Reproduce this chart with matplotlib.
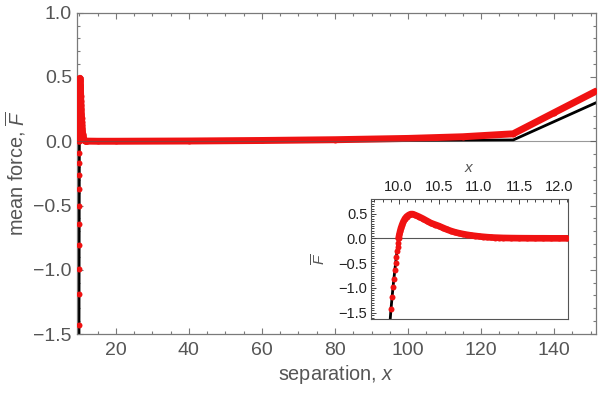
import matplotlib
matplotlib.use('Agg')
import matplotlib.pyplot as plt
from matplotlib.ticker import MultipleLocator, FixedLocator, FixedFormatter
import numpy as np

# ---- data ----
# red: simulated mean force (markers)
red_x = [9.905, 9.918, 9.930, 9.942, 9.953, 9.963, 9.972, 9.980, 9.987, 9.993,
         10.000, 10.010, 10.020, 10.030, 10.045, 10.060, 10.080, 10.100, 10.125,
         10.150, 10.175, 10.200, 10.250, 10.300, 10.350, 10.400, 10.450, 10.500,
         10.550, 10.600, 10.650, 10.700, 10.750, 10.800, 10.850, 10.900, 10.950,
         11.000, 11.050, 11.100, 11.150, 11.200, 11.250, 11.300, 11.400, 11.500,
         11.600, 11.700, 11.800, 11.900, 12.000, 12.100,
         15.0, 20.0, 40.0, 60.0, 80.0, 100.0, 115.0, 128.8, 140.0, 151.5]
red_y = [-1.43, -1.19, -0.99, -0.81, -0.64, -0.50, -0.37, -0.26, -0.17, -0.09,
         0.00, 0.08, 0.15, 0.21, 0.28, 0.34, 0.40, 0.44, 0.47,
         0.49, 0.49, 0.475, 0.44, 0.40, 0.355, 0.31, 0.28, 0.25,
         0.215, 0.18, 0.15, 0.125, 0.105, 0.088, 0.073, 0.060, 0.050,
         0.040, 0.032, 0.025, 0.019, 0.015, 0.012, 0.009, 0.006, 0.004,
         0.003, 0.002, 0.002, 0.001, 0.001, 0.001,
         0.000, 0.000, 0.002, 0.006, 0.012, 0.022, 0.035, 0.058, 0.222, 0.39]

# black: theoretical curve
black_x = [9.890, 9.905, 9.930, 9.953, 9.972, 9.987, 10.000, 10.020, 10.045,
           10.080, 10.125, 10.165, 10.200, 10.300, 10.400, 10.500, 10.600,
           10.700, 10.800, 10.900, 11.000, 11.200, 11.500, 12.000,
           20.0, 60.0, 100.0, 128.8, 151.5]
black_y = [-1.75, -1.43, -0.99, -0.64, -0.37, -0.17, 0.00, 0.15, 0.28,
           0.40, 0.47, 0.49, 0.475, 0.40, 0.31, 0.25, 0.18,
           0.125, 0.088, 0.060, 0.040, 0.015, 0.004, 0.001,
           0.000, 0.002, 0.005, 0.010, 0.30]

main_xticks = [20, 40, 60, 80, 100, 120, 140]
main_yticks = [-1.5, -1.0, -0.5, 0.0, 0.5, 1.0]
inset_xticks = [10.0, 10.5, 11.0, 11.5, 12.0]
inset_yticks = [-1.5, -1.0, -0.5, 0.0, 0.5]

# ---- style ----
plt.rcParams['font.family'] = ['Liberation Sans', 'DejaVu Sans']
plt.rcParams['mathtext.fontset'] = 'custom'
plt.rcParams['mathtext.rm'] = 'Liberation Sans'
plt.rcParams['mathtext.it'] = 'Liberation Sans:italic'

RED = '#f01212'
FRAME = '#7a7a7a'
LABEL = '#555555'

rx = np.array(red_x); ry = np.array(red_y)
steep = ry < -0.01

fig = plt.figure(figsize=(6.0, 3.93), dpi=100)
ax = fig.add_axes([0.128, 0.150, 0.8655, 0.8176])

ax.plot(black_x, black_y, color='black', lw=2.0, zorder=2)
ax.plot(rx[~steep], ry[~steep], color=RED, lw=5.0, solid_capstyle='round',
        solid_joinstyle='round', zorder=3)
ax.plot(rx, ry, 'o', ms=4.3, color=RED, mec='none', zorder=4)
ax.axhline(0, color='#555555', lw=0.8, alpha=0.6, zorder=5)

ax.set_xlim(9.3, 151.5)
ax.set_ylim(-1.5, 1.0)
ax.xaxis.set_major_locator(FixedLocator(main_xticks))
ax.xaxis.set_major_formatter(FixedFormatter([str(t) for t in main_xticks]))
ax.xaxis.set_minor_locator(MultipleLocator(5))
ax.yaxis.set_major_locator(FixedLocator(main_yticks))
ax.yaxis.set_major_formatter(FixedFormatter([f'{t:.1f}'.replace('-', '\u2212') for t in main_yticks]))
ax.yaxis.set_minor_locator(MultipleLocator(0.1))
ax.tick_params(which='both', direction='in', top=True, right=True, color=FRAME,
               width=0.8, labelsize=14, labelcolor=LABEL)
ax.tick_params(which='major', length=4.5)
ax.tick_params(which='minor', length=2.5)
ax.tick_params(axis='x', pad=5.5)
ax.tick_params(axis='y', pad=3.5)
for s in ax.spines.values():
    s.set_color(FRAME); s.set_linewidth(0.9)
ax.set_xlabel(r'separation, $x$', fontsize=14.3, color=LABEL, labelpad=3)
ax.set_ylabel(r'mean force, $\overline{F}$', fontsize=14.3, color=LABEL, labelpad=4)

# ---- inset ----
ins = fig.add_axes([0.618, 0.188, 0.329, 0.305])
ins.plot(black_x, black_y, color='black', lw=2.0, zorder=2)
ins.plot(rx[~steep], ry[~steep], color=RED, lw=4.8, solid_capstyle='round',
         solid_joinstyle='round', zorder=3)
ins.plot(rx, ry, 'o', ms=4.3, color=RED, mec='none', zorder=4)
ins.axhline(0, color='#555555', lw=0.8, zorder=1)
ins.set_xlim(9.654, 12.11)
ins.set_ylim(-1.63, 0.79)
ins.xaxis.tick_top()
ins.xaxis.set_label_position('top')
ins.xaxis.set_major_locator(FixedLocator(inset_xticks))
ins.xaxis.set_major_formatter(FixedFormatter([f'{t:.1f}' for t in inset_xticks]))
ins.xaxis.set_minor_locator(MultipleLocator(0.1))
ins.yaxis.set_major_locator(FixedLocator(inset_yticks))
ins.yaxis.set_major_formatter(FixedFormatter([f'{t:.1f}'.replace('-', '\u2212') for t in inset_yticks]))
ins.yaxis.set_minor_locator(MultipleLocator(0.05))
ins.tick_params(which='both', direction='in', top=True, bottom=False, left=True,
                right=False, color='#444444', width=0.7, labelsize=10.5,
                labelcolor='#222222')
ins.tick_params(which='major', length=3.5)
ins.tick_params(which='minor', length=1.8)
ins.tick_params(axis='x', pad=3.5)
ins.tick_params(axis='y', pad=2.5)
for s in ins.spines.values():
    s.set_color('#555555'); s.set_linewidth(0.8)
ins.set_xlabel(r'$x$', fontsize=11, color=LABEL, labelpad=6)
ins.set_ylabel(r'$\overline{F}$', fontsize=11, color=LABEL, labelpad=7)

fig.savefig('out.png', dpi=100)
